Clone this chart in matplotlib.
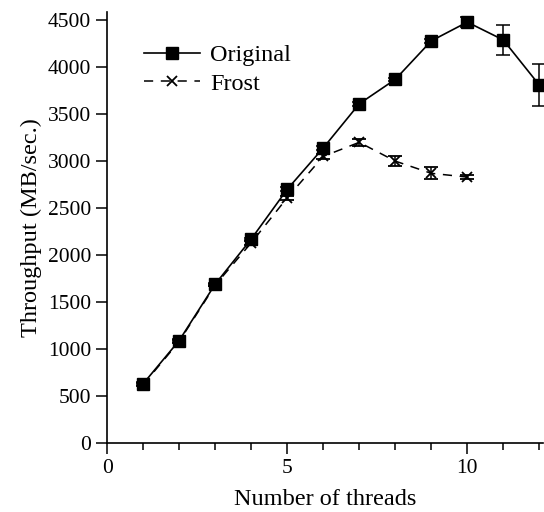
import matplotlib
matplotlib.use("Agg")
import matplotlib.pyplot as plt
import numpy as np
from matplotlib.ticker import MultipleLocator

plt.rcParams["font.family"] = ["Liberation Serif", "DejaVu Serif"]

threads = [1, 2, 3, 4, 5, 6, 7, 8, 9, 10, 11, 12]
original = [630, 1090, 1690, 2170, 2700, 3140, 3610, 3870, 4280, 4480, 4290, 3810]
original_err = [15, 15, 15, 15, 20, 20, 20, 20, 20, 50, 160, 220]

frost_threads = [1, 2, 3, 4, 5, 6, 7, 8, 9, 10]
frost = [620, 1080, 1680, 2130, 2610, 3050, 3200, 3000, 2870, 2830]
frost_err = [15, 15, 15, 20, 20, 25, 35, 55, 65, 25]

fig = plt.figure(figsize=(5.44, 5.12), dpi=100)
ax = fig.add_axes([0.197, 0.135, 0.801, 0.842])

ax.errorbar(threads, original, yerr=original_err, color="black", linewidth=1.2,
            marker="s", markersize=8, capsize=5, elinewidth=1.1, capthick=1.1,
            label="Original", zorder=3)
ax.errorbar(frost_threads, frost, yerr=frost_err, color="black", linewidth=1.1,
            linestyle=(0, (6, 5)), marker="x", markersize=7, markeredgewidth=1.3,
            capsize=5, elinewidth=1.1, capthick=1.1, label="Frost", zorder=2)

ax.set_xlim(0, 12.1)
ax.set_ylim(0, 4590)
ax.xaxis.set_major_locator(MultipleLocator(5))
ax.xaxis.set_minor_locator(MultipleLocator(1))
ax.yaxis.set_major_locator(MultipleLocator(500))
ax.tick_params(axis="both", which="major", direction="out", length=8, width=1.1,
               labelsize=15.5, colors="black")
ax.tick_params(axis="x", which="minor", direction="out", length=5, width=1.1)
for spine in ["top", "right"]:
    ax.spines[spine].set_visible(False)
ax.spines["left"].set_linewidth(1.2)
ax.spines["bottom"].set_linewidth(1.2)

ax.set_xlabel("Number of threads", fontsize=17.5, labelpad=8)
ax.set_ylabel("Throughput (MB/sec.)", fontsize=17.5, labelpad=4)

handles, labels = ax.get_legend_handles_labels()
ax.legend([h[0] for h in handles], labels, loc="upper left", frameon=False,
          fontsize=17.5, bbox_to_anchor=(0.035, 0.975), handlelength=2.3,
          handletextpad=0.4, labelspacing=0.25)

fig.savefig("out.png", dpi=100)
